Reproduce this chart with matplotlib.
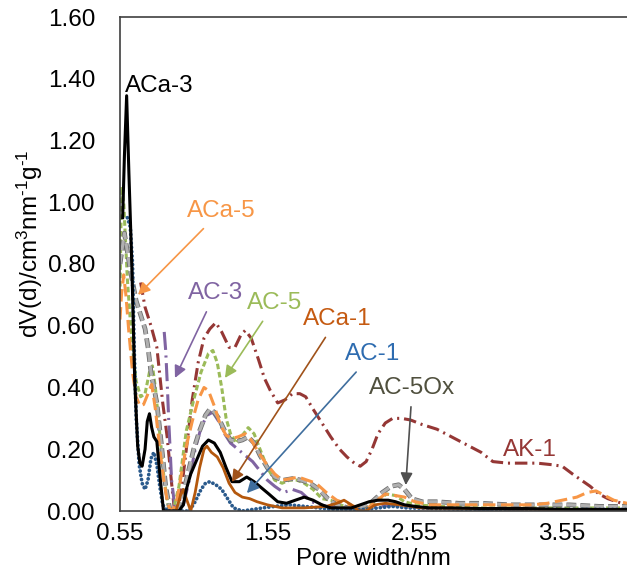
import matplotlib
matplotlib.use("Agg")
import matplotlib.pyplot as plt
import matplotlib.patheffects as pe
from matplotlib.ticker import FormatStrFormatter

plt.rcParams['font.family'] = ['Liberation Sans', 'DejaVu Sans']
plt.rcParams['mathtext.fontset'] = 'custom'
plt.rcParams['mathtext.rm'] = 'Liberation Sans'
plt.rcParams['mathtext.default'] = 'regular'
plt.rcParams['lines.scale_dashes'] = False

# pore size distributions, dV(d) vs pore width (nm)
aca3_x = [0.568, 0.58, 0.595, 0.61, 0.63, 0.65, 0.67, 0.685, 0.70, 0.72, 0.735, 0.75, 0.765,
          0.78, 0.80, 0.82, 0.845, 0.87, 0.95, 0.98, 1.00, 1.03, 1.07, 1.11, 1.15, 1.19, 1.23,
          1.27, 1.31, 1.36, 1.41, 1.46, 1.51, 1.56, 1.62, 1.68, 1.74, 1.80, 1.86, 1.92, 1.98,
          2.05, 2.12, 2.18, 2.24, 2.30, 2.37, 2.42, 2.48, 2.55, 2.65, 2.80, 3.00, 3.30, 3.60, 3.99]
aca3_y = [0.95, 1.15, 1.345, 1.10, 0.80, 0.42, 0.21, 0.155, 0.145, 0.20, 0.29, 0.315, 0.27,
          0.24, 0.225, 0.12, 0.0, 0.0, 0.0, 0.02, 0.07, 0.12, 0.165, 0.21, 0.23, 0.22, 0.19,
          0.14, 0.095, 0.095, 0.11, 0.095, 0.075, 0.055, 0.03, 0.025, 0.035, 0.045, 0.035, 0.02,
          0.01, 0.01, 0.01, 0.02, 0.03, 0.035, 0.035, 0.03, 0.02, 0.015, 0.01, 0.01, 0.008,
          0.008, 0.005, 0.005]

aca5_x = [0.55, 0.56, 0.575, 0.59, 0.61, 0.635, 0.66, 0.685, 0.71, 0.74, 0.765, 0.79, 0.82,
          0.85, 0.875, 0.90, 0.93, 0.96, 1.00, 1.04, 1.08, 1.12, 1.15, 1.19, 1.23, 1.27, 1.31,
          1.35, 1.40, 1.44, 1.49, 1.54, 1.60, 1.65, 1.71, 1.76, 1.82, 1.88, 1.95, 2.02, 2.08,
          2.14, 2.21, 2.28, 2.35, 2.42, 2.48, 2.55, 2.65, 2.80, 3.00, 3.20, 3.35, 3.45, 3.55,
          3.65, 3.72, 3.78, 3.84, 3.90, 3.99]
aca5_y = [0.62, 0.70, 0.765, 0.70, 0.58, 0.45, 0.37, 0.34, 0.345, 0.38, 0.41, 0.33, 0.20,
          0.09, 0.02, 0.0, 0.02, 0.10, 0.21, 0.29, 0.36, 0.40, 0.39, 0.34, 0.28, 0.245, 0.235,
          0.24, 0.25, 0.23, 0.19, 0.155, 0.12, 0.10, 0.105, 0.11, 0.10, 0.09, 0.06, 0.035,
          0.025, 0.015, 0.0, 0.03, 0.055, 0.05, 0.045, 0.03, 0.02, 0.02, 0.02, 0.02, 0.02,
          0.025, 0.035, 0.045, 0.06, 0.065, 0.05, 0.035, 0.025]

ac5_x = [0.55, 0.56, 0.575, 0.60, 0.63, 0.66, 0.69, 0.72, 0.75, 0.77, 0.79, 0.82, 0.85, 0.88,
         0.91, 0.95, 1.00, 1.05, 1.10, 1.15, 1.18, 1.21, 1.24, 1.27, 1.30, 1.34, 1.38, 1.42,
         1.46, 1.50, 1.55, 1.60, 1.65, 1.70, 1.75, 1.80, 1.86, 1.92, 1.98, 2.04, 2.12, 2.20,
         2.28, 2.36, 2.42, 2.48, 2.56, 2.70, 3.00, 3.50, 3.99]
ac5_y = [0.70, 1.05, 1.00, 0.75, 0.55, 0.42, 0.37, 0.38, 0.45, 0.47, 0.40, 0.25, 0.10, 0.01,
         0.0, 0.08, 0.26, 0.36, 0.45, 0.51, 0.52, 0.48, 0.40, 0.30, 0.25, 0.22, 0.245, 0.27,
         0.25, 0.20, 0.14, 0.10, 0.09, 0.10, 0.10, 0.09, 0.07, 0.04, 0.035, 0.02, 0.01, 0.01,
         0.03, 0.055, 0.05, 0.03, 0.02, 0.015, 0.01, 0.01, 0.01]

ac3_x = [0.85, 0.86, 0.87, 0.88, 0.89, 0.90, 0.92, 0.95, 0.98, 1.02, 1.06, 1.10, 1.14, 1.18,
         1.22, 1.26, 1.30, 1.35, 1.40, 1.45, 1.50, 1.55, 1.60, 1.66, 1.72, 1.78, 1.85, 1.95,
         2.05, 2.20, 2.40, 2.60, 3.00, 3.50, 3.99]
ac3_y = [0.58, 0.52, 0.42, 0.30, 0.20, 0.10, 0.02, 0.0, 0.02, 0.10, 0.20, 0.27, 0.31, 0.32,
         0.29, 0.25, 0.22, 0.20, 0.18, 0.16, 0.13, 0.10, 0.08, 0.06, 0.07, 0.06, 0.03, 0.015,
         0.01, 0.01, 0.02, 0.01, 0.005, 0.005, 0.005]

aca1_x = [0.93, 0.96, 0.98, 1.00, 1.03, 1.06, 1.09, 1.12, 1.14, 1.17, 1.21, 1.25, 1.29, 1.33,
          1.38, 1.43, 1.48, 1.55, 1.65, 1.80, 1.95, 2.02, 2.07, 2.12, 2.17, 2.22, 2.28, 2.35,
          2.45, 2.60, 3.00, 3.50, 3.99]
aca1_y = [0.0, 0.05, 0.07, 0.04, 0.0, 0.06, 0.14, 0.20, 0.21, 0.19, 0.175, 0.14, 0.09, 0.06,
          0.045, 0.04, 0.03, 0.02, 0.01, 0.01, 0.015, 0.025, 0.035, 0.02, 0.0, 0.0, 0.02,
          0.025, 0.02, 0.01, 0.008, 0.005, 0.005]

ac1_x = [0.60, 0.62, 0.635, 0.645, 0.66, 0.68, 0.70, 0.72, 0.74, 0.76, 0.78, 0.80, 0.82, 0.84,
         0.87, 0.95, 1.02, 1.06, 1.10, 1.13, 1.16, 1.20, 1.24, 1.28, 1.32, 1.38, 1.45, 1.52,
         1.60, 1.70, 1.80, 1.90, 2.00, 2.10, 2.20, 2.30, 2.40, 2.50, 2.70, 3.00, 3.50, 3.99]
ac1_y = [0.95, 0.92, 0.80, 0.55, 0.30, 0.15, 0.09, 0.07, 0.10, 0.17, 0.19, 0.15, 0.08, 0.02,
         0.0, 0.0, 0.0, 0.03, 0.07, 0.09, 0.095, 0.085, 0.07, 0.04, 0.01, 0.0, 0.005, 0.01,
         0.015, 0.02, 0.015, 0.01, 0.005, 0.005, 0.005, 0.01, 0.015, 0.01, 0.008, 0.005,
         0.005, 0.005]

ac5ox_x = [0.55, 0.58, 0.62, 0.66, 0.70, 0.72, 0.74, 0.76, 0.78, 0.80, 0.83, 0.86, 0.89, 0.93,
           0.97, 1.01, 1.05, 1.09, 1.13, 1.16, 1.19, 1.22, 1.26, 1.30, 1.34, 1.38, 1.42, 1.46,
           1.50, 1.55, 1.60, 1.66, 1.72, 1.78, 1.84, 1.90, 1.96, 2.02, 2.10, 2.18, 2.26, 2.33,
           2.39, 2.44, 2.48, 2.53, 2.60, 2.70, 2.85, 3.00, 3.20, 3.40, 3.60, 3.80, 3.99]
ac5ox_y = [0.80, 0.90, 0.78, 0.68, 0.62, 0.59, 0.53, 0.45, 0.40, 0.35, 0.22, 0.08, 0.0, 0.0,
           0.04, 0.12, 0.20, 0.26, 0.31, 0.33, 0.32, 0.30, 0.26, 0.23, 0.225, 0.23, 0.24, 0.22,
           0.18, 0.14, 0.11, 0.10, 0.105, 0.10, 0.09, 0.07, 0.04, 0.02, 0.01, 0.01, 0.03, 0.06,
           0.08, 0.085, 0.07, 0.04, 0.03, 0.03, 0.025, 0.025, 0.02, 0.02, 0.02, 0.015, 0.015]

ak1_x = [0.69, 0.72, 0.76, 0.80, 0.82, 0.84, 0.87, 0.90, 0.92, 0.95, 0.98, 1.01, 1.04, 1.08,
         1.12, 1.16, 1.20, 1.24, 1.29, 1.33, 1.37, 1.40, 1.44, 1.49, 1.53, 1.57, 1.62, 1.67,
         1.72, 1.77, 1.81, 1.86, 1.92, 1.98, 2.04, 2.09, 2.14, 2.18, 2.22, 2.26, 2.30, 2.35,
         2.40, 2.46, 2.52, 2.60, 2.70, 2.80, 2.90, 3.00, 3.08, 3.18, 3.28, 3.38, 3.48, 3.55,
         3.62, 3.68, 3.74, 3.80, 3.86, 3.92, 3.99]
ak1_y = [0.74, 0.66, 0.60, 0.53, 0.44, 0.35, 0.24, 0.09, 0.0, 0.02, 0.12, 0.24, 0.36, 0.48,
         0.56, 0.59, 0.61, 0.58, 0.53, 0.53, 0.57, 0.585, 0.56, 0.49, 0.43, 0.39, 0.35, 0.36,
         0.38, 0.38, 0.37, 0.33, 0.285, 0.24, 0.20, 0.175, 0.155, 0.145, 0.16, 0.20, 0.25,
         0.285, 0.30, 0.30, 0.295, 0.28, 0.265, 0.24, 0.215, 0.19, 0.16, 0.155, 0.155, 0.155,
         0.15, 0.145, 0.12, 0.10, 0.08, 0.055, 0.04, 0.03, 0.02]

ytick_vals = [0.0, 0.2, 0.4, 0.6, 0.8, 1.0, 1.2, 1.4, 1.6]
xtick_vals = [0.55, 1.55, 2.55, 3.55]

fig = plt.figure(figsize=(6.27, 5.86), dpi=100)
ax = fig.add_axes([120 / 627, 75 / 586, 507 / 627, 494 / 586])

lw = 2.2
ax.plot(ak1_x, ak1_y, color='#953735', lw=lw, dashes=(9, 3.5, 1.5, 3.5))
ax.plot(ac3_x, ac3_y, color='#8064A2', lw=lw, dashes=(13, 4, 1.5, 4))
ax.plot(ac5_x, ac5_y, color='#9BBB59', lw=lw, dashes=(4, 2))
ax.plot(ac5ox_x, ac5ox_y, color='#B0B0B0', lw=lw, dashes=(7, 3),
        path_effects=[pe.withStroke(linewidth=lw + 1.2, foreground='#6E6E6E')])
ax.plot(aca5_x, aca5_y, color='#F79646', lw=lw, dashes=(9, 4))
ax.plot(ac1_x, ac1_y, color='#2A5A8C', lw=2.7, linestyle=(0, (0.1, 3.0)),
        dash_capstyle='round', solid_capstyle='round')
ax.plot(aca1_x, aca1_y, color='#B4580D', lw=2.0)
ax.plot(aca3_x, aca3_y, color='black', lw=lw)

ax.set_xlim(0.55, 3.99)
ax.set_ylim(0, 1.6)
ax.set_xticks(xtick_vals)
ax.set_xticklabels(['0.55', '1.55', '2.55', '3.55'])
ax.set_yticks(ytick_vals)
ax.yaxis.set_major_formatter(FormatStrFormatter('%.2f'))
ax.tick_params(axis='both', length=0, labelsize=17.5, colors='black')
ax.tick_params(axis='y', pad=18)
ax.tick_params(axis='x', pad=9)

for side in ['left', 'bottom', 'top']:
    ax.spines[side].set_color('#404040')
    ax.spines[side].set_linewidth(1.2)
ax.spines['right'].set_visible(False)

ax.set_xlabel('Pore width/nm', fontsize=17.5, labelpad=2)
ax.set_ylabel(r'dV(d)/cm$^{3}$nm$^{\text{-1}}$g$^{\text{-1}}$', fontsize=17.5)
ax.yaxis.set_label_coords(-0.148, 0.54)

fs = 17.5
ax.text(0.814, 1.376, 'ACa-3', color='black', fontsize=fs, ha='center', va='center')
ax.text(3.333, 0.198, 'AK-1', color='#953735', fontsize=fs, ha='center', va='center')

notes = [
    ('ACa-5', (0.672, 0.70), (1.235, 0.972), '#F79646', '#F79646'),
    ('AC-3', (0.923, 0.431), (1.197, 0.706), '#8064A2', '#8064A2'),
    ('AC-5', (1.262, 0.431), (1.601, 0.674), '#9BBB59', '#9BBB59'),
    ('ACa-1', (1.309, 0.094), (2.025, 0.622), '#C55A11', '#A0521A'),
    ('AC-1', (1.411, 0.058), (2.262, 0.508), '#2E6CB0', '#3F6E9E'),
    ('AC-5Ox', (2.489, 0.084), (2.533, 0.40), '#50503E', '#505050'),
]
for label, tip, pos, tcol, acol in notes:
    ax.annotate(label, xy=tip, xytext=pos, color=tcol, fontsize=fs,
                ha='center', va='center',
                arrowprops=dict(arrowstyle='-|>', color=acol, lw=1.2,
                                mutation_scale=18, shrinkA=4, shrinkB=0))

fig.savefig('out.png', dpi=100)
